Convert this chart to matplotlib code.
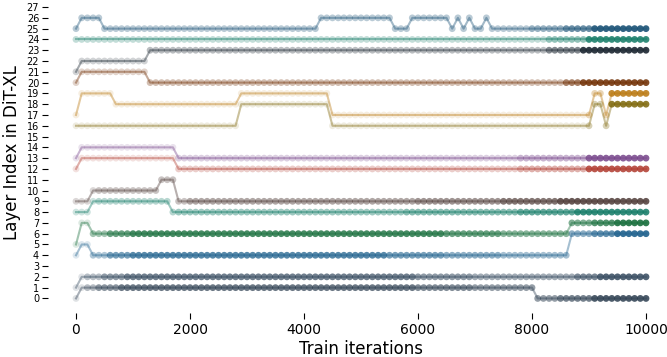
import numpy as np
import matplotlib
matplotlib.use("Agg")
import matplotlib.pyplot as plt
from matplotlib.colors import to_rgba

# train iterations, one point every 100 steps
iters = np.arange(0, 10001, 100)

# layer index per series, stored as (layer, run length) pairs
layer_runs = [
    [(0, 1), (1, 80), (0, 20)],
    [(1, 1), (2, 100)],
    [(4, 1), (5, 2), (4, 84), (6, 14)],
    [(5, 1), (7, 2), (6, 84), (7, 14)],
    [(8, 3), (9, 14), (8, 84)],
    [(9, 3), (10, 12), (11, 3), (9, 83)],
    [(12, 1), (13, 17), (12, 83)],
    [(13, 1), (14, 17), (13, 83)],
    [(16, 29), (18, 16), (16, 46), (18, 2), (16, 1), (18, 7)],
    [(17, 1), (19, 6), (18, 22), (19, 16), (17, 46), (19, 2), (17, 1), (19, 7)],
    [(20, 1), (21, 12), (20, 88)],
    [(21, 1), (22, 12), (23, 88)],
    [(24, 101)],
    [(25, 1), (26, 4), (25, 38), (26, 13), (25, 3), (26, 7), (25, 1), (26, 1),
     (25, 1), (26, 1), (25, 2), (26, 1), (25, 28)],
]

# marker opacity per series, as (alpha, run length) pairs
alpha_runs = [
    [(0.15, 2), (0.35, 2), (0.55, 4), (0.7, 52), (0.6, 10), (0.5, 15), (0.65, 6), (0.85, 10)],
    [(0.15, 2), (0.35, 3), (0.55, 4), (0.7, 51), (0.55, 10), (0.45, 18), (0.65, 4), (0.85, 9)],
    [(0.15, 3), (0.35, 3), (0.6, 4), (0.75, 45), (0.6, 10), (0.5, 10), (0.4, 12), (0.5, 4), (0.7, 4), (0.9, 6)],
    [(0.15, 3), (0.4, 3), (0.65, 4), (0.8, 55), (0.65, 10), (0.5, 12), (0.55, 4), (0.75, 4), (0.9, 6)],
    [(0.2, 4), (0.3, 14), (0.4, 40), (0.5, 20), (0.65, 10), (0.85, 13)],
    [(0.2, 4), (0.3, 16), (0.45, 40), (0.55, 15), (0.7, 10), (0.85, 16)],
    [(0.15, 18), (0.25, 60), (0.4, 12), (0.85, 11)],
    [(0.15, 18), (0.25, 60), (0.4, 12), (0.85, 11)],
    [(0.12, 90), (0.3, 4), (0.85, 7)],
    [(0.12, 90), (0.3, 4), (0.85, 7)],
    [(0.2, 13), (0.3, 73), (0.6, 3), (0.85, 12)],
    [(0.2, 13), (0.3, 70), (0.55, 6), (0.9, 12)],
    [(0.25, 83), (0.45, 7), (0.85, 11)],
    [(0.3, 80), (0.45, 6), (0.65, 5), (0.9, 10)],
]

colors = ['#2c3e50', '#34495e', '#1f618d', '#196f3d', '#117a65', '#4e3b37',
          '#b03a2e', '#76448a', '#7d6608', '#b9770e', '#6e2c00', '#1b2631',
          '#117a65', '#1a5276']

y_ticks = list(range(0, 28))
x_ticks = [0, 2000, 4000, 6000, 8000, 10000]


def expand(runs):
    out = []
    for val, n in runs:
        out.extend([val] * n)
    return np.array(out, dtype=float)


fig = plt.figure(figsize=(6.67, 3.57), dpi=100)
ax = fig.add_axes([47.5 / 667, 44 / 357, 627 / 667, 320.5 / 357])

for runs, aruns, c in zip(layer_runs, alpha_runs, colors):
    layers = expand(runs)
    alphas = expand(aruns)
    ax.plot(iters, layers, color=c, alpha=0.4, lw=1.5, zorder=1)
    rgba = np.array([to_rgba(c)] * len(iters))
    rgba[:, 3] = alphas
    ax.scatter(iters, layers, s=24, c=rgba, edgecolors='none', zorder=2)

ax.set_xlim(-500, 10500)
ax.set_ylim(-1.35, 28.35)
ax.set_xticks(x_ticks)
ax.set_yticks(y_ticks)
ax.tick_params(axis='y', labelsize=7, length=4, pad=2)
ax.tick_params(axis='x', labelsize=10, length=4)
for s in ax.spines.values():
    s.set_visible(False)
ax.set_xlabel('Train iterations', fontsize=12, labelpad=2)
ax.set_ylabel('Layer Index in DiT-XL', fontsize=12)

fig.savefig('out.png', dpi=100)
